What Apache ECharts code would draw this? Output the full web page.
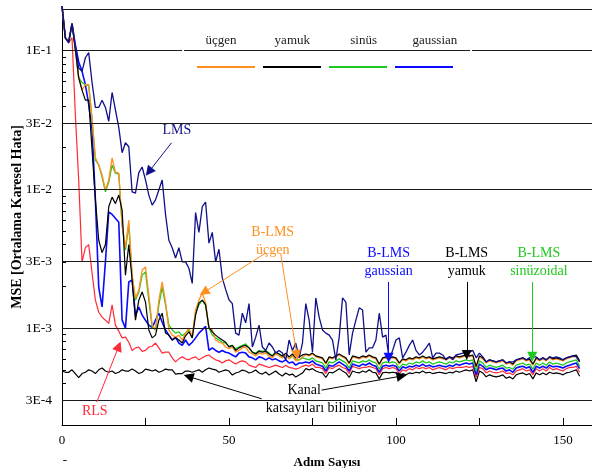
<!DOCTYPE html>
<html><head><meta charset="utf-8">
<script src="https://cdn.jsdelivr.net/npm/echarts@6/dist/echarts.min.js"></script>
<style>html,body{margin:0;padding:0;background:#fff}#c{width:592px;height:468px}</style>
</head><body><div id="c"></div>
<script>
// Step index (Adım Sayısı)
const steps = Array.from({length:156},(_,i)=>i);

const lms = [
2.1e-1,1.24e-1,1.14e-1,1.57e-1,1.07e-1,7.5e-2,7.1e-2,8.9e-2,9.7e-2,5.9e-2,
3.9e-2,3.9e-2,4.4e-2,3.9e-2,3.1e-2,5.0e-2,3.75e-2,2.8e-2,1.84e-2,2.17e-2,
2.03e-2,9.6e-3,9.4e-3,1.32e-2,1.45e-2,1.17e-2,9.1e-3,7.7e-3,8.4e-3,9.9e-3,
1.17e-2,6.6e-3,4.3e-3,3.8e-3,3.2e-3,3.8e-3,3.0e-3,3.0e-3,2.7e-3,2.1e-3,
6.8e-3,4.9e-3,7.5e-3,8.1e-3,4.1e-3,4.9e-3,3.0e-3,3.7e-3,2.3e-3,1.9e-3,
1.6e-3,1.5e-3,9.2e-4,8.9e-4,1.28e-3,1.09e-3,1.5e-3,7.3e-4,8.6e-4,1.05e-3,
7.3e-4,6.9e-4,7.8e-4,7.3e-4,6.6e-4,6.9e-4,6.6e-4,5.9e-4,8.2e-4,6.9e-4,
7.8e-4,6.1e-4,7.8e-4,1.5e-3,1.14e-3,6.7e-4,1.65e-3,1.2e-3,9.7e-4,9.2e-4,
8.9e-4,8.2e-4,5.9e-4,8.6e-4,1.65e-3,1.54e-3,6.4e-4,9.2e-4,1.14e-3,1.4e-3,
1.35e-3,6.7e-4,7.2e-4,7.2e-4,8.2e-4,1.28e-3,8.6e-4,8.9e-4,5.9e-4,6.9e-4,
8.2e-4,8.5e-4,6.1e-4,6.7e-4,7.5e-4,8.2e-4,6.9e-4,6.4e-4,6.7e-4,7.2e-4,
7.8e-4,6.1e-4,6.6e-4,6.6e-4,6.4e-4,5.9e-4,6.2e-4,5.9e-4,6.4e-4,6.5e-4,
6.6e-4,6.6e-4,6.7e-4,6.9e-4,6.1e-4,6.6e-4,6.2e-4,5.7e-4,5.9e-4,5.8e-4,
5.7e-4,5.8e-4,5.9e-4,5.6e-4,5.7e-4,5.7e-4,5.9e-4,6.0e-4,6.1e-4,5.9e-4,
6.1e-4,6.2e-4,6.2e-4,5.9e-4,6.1e-4,5.9e-4,6.2e-4,6.1e-4,6.2e-4,6.1e-4,
5.9e-4,6.1e-4,6.2e-4,6.3e-4,6.2e-4,5.7e-4
];

const rls = [
2.1e-1,1.24e-1,1.14e-1,1.24e-1,3.45e-2,1.17e-2,3.0e-3,3.8e-3,4.0e-3,2.5e-3,
1.59e-3,1.3e-3,1.2e-3,1.14e-3,1.08e-3,1.47e-3,1.05e-3,9.5e-4,8.5e-4,8.6e-4,
7.9e-4,6.9e-4,7.2e-4,7.3e-4,6.8e-4,6.9e-4,7.3e-4,7.4e-4,7.8e-4,7.2e-4,
6.6e-4,6.7e-4,6.7e-4,6.1e-4,5.7e-4,6.0e-4,6.2e-4,6.0e-4,5.9e-4,6.1e-4,
6.2e-4,5.9e-4,6.1e-4,6.3e-4,6.4e-4,6.1e-4,5.9e-4,5.8e-4,5.6e-4,5.8e-4,
5.9e-4,5.7e-4,5.5e-4,5.7e-4,5.8e-4,5.7e-4,5.4e-4,5.3e-4,5.2e-4,5.5e-4,
5.4e-4,5.3e-4,5.2e-4,5.3e-4,5.4e-4,5.3e-4,5.2e-4,5.4e-4,5.2e-4,5.15e-4,
5.06e-4,5.15e-4,5.3e-4,
5.4e-4,5.3e-4,5.5e-4,5.2e-4,5.2e-4,5.1e-4,4.7e-4,5.2e-4,5.1e-4,5.3e-4,
5.4e-4,5.2e-4,5.1e-4,4.7e-4,5.3e-4,5.2e-4,5.1e-4,5.2e-4,5.2e-4,5.3e-4,
5.2e-4,5.1e-4,4.6e-4,5.1e-4,5.2e-4,5.1e-4,5.2e-4,5.1e-4,4.7e-4,5.0e-4,
4.9e-4,5.1e-4,5.0e-4,5.2e-4,5.1e-4,5.2e-4,5.1e-4,5.2e-4,5.0e-4,5.1e-4,
5.2e-4,5.1e-4,5.0e-4,5.2e-4,5.1e-4,5.2e-4,5.2e-4,5.2e-4,5.3e-4,5.2e-4,
5.3e-4,4.4e-4,5.2e-4,5.1e-4,4.75e-4,4.9e-4,4.8e-4,4.75e-4,4.8e-4,4.9e-4,
4.7e-4,4.75e-4,4.6e-4,4.9e-4,5.0e-4,5.1e-4,4.9e-4,5.0e-4,4.6e-4,5.1e-4,
4.9e-4,5.1e-4,4.9e-4,5.2e-4,5.0e-4,5.1e-4,5.0e-4,4.9e-4,5.1e-4,5.2e-4,
5.2e-4,5.3e-4,4.8e-4
];

const ucgen = [
2.1e-1,1.24e-1,1.16e-1,1.57e-1,1.02e-1,6.4e-2,5.2e-2,5.7e-2,5.7e-2,3.2e-2,
1.69e-2,1.5e-2,1.27e-2,9.9e-3,1.17e-2,1.69e-2,1.33e-2,1.31e-2,5.55e-3,3.8e-3,
6.0e-3,2.41e-3,1.64e-3,1.88e-3,2.62e-3,2.76e-3,1.73e-3,1.05e-3,9.7e-4,1.59e-3,
2.15e-3,1.54e-3,9.7e-4,8.9e-4,8.6e-4,8.9e-4,8.2e-4,9.2e-4,1.0e-3,8.6e-4,
1.35e-3,1.59e-3,1.79e-3,1.52e-3,1.0e-3,9.7e-4,8.2e-4,7.9e-4,7.8e-4,7.3e-4,
7.1e-4,7.3e-4,6.7e-4,6.9e-4,7.2e-4,7.3e-4,6.7e-4,6.5e-4,6.3e-4,6.6e-4,
6.5e-4,6.6e-4,6.3e-4,6.1e-4,6.5e-4,6.3e-4,6.1e-4,6.4e-4,6.0e-4,6.3e-4,
5.8e-4,5.9e-4,6.2e-4,
6.4e-4,6.3e-4,6.5e-4,6.2e-4,6.1e-4,6.0e-4,5.5e-4,6.1e-4,6.0e-4,6.2e-4,
6.4e-4,6.2e-4,6.0e-4,5.5e-4,6.2e-4,6.1e-4,6.0e-4,6.2e-4,6.1e-4,6.3e-4,
6.1e-4,6.0e-4,5.4e-4,6.0e-4,6.1e-4,6.0e-4,6.1e-4,6.0e-4,5.5e-4,5.9e-4,
5.8e-4,6.0e-4,5.9e-4,6.1e-4,6.0e-4,6.2e-4,6.0e-4,6.1e-4,5.9e-4,6.0e-4,
6.1e-4,6.0e-4,5.9e-4,6.1e-4,6.0e-4,6.2e-4,6.1e-4,6.2e-4,6.3e-4,6.2e-4,
6.3e-4,5.2e-4,6.2e-4,6.0e-4,5.6e-4,5.8e-4,5.7e-4,5.6e-4,5.7e-4,5.8e-4,
5.5e-4,5.6e-4,5.4e-4,5.8e-4,5.9e-4,6.0e-4,5.8e-4,5.9e-4,5.4e-4,6.0e-4,
5.8e-4,6.0e-4,5.8e-4,6.1e-4,5.9e-4,6.0e-4,5.9e-4,5.8e-4,6.0e-4,6.1e-4,
6.2e-4,6.3e-4,5.7e-4
];

const yamuk = [
2.1e-1,1.24e-1,1.16e-1,1.57e-1,1.02e-1,6.4e-2,5.2e-2,4.4e-2,4.4e-2,1.93e-2,
8.4e-3,4.3e-3,3.5e-3,4.0e-3,7.5e-3,8.8e-3,7.9e-3,9.1e-3,7.1e-3,2.41e-3,
4.0e-3,2.22e-3,1.14e-3,1.59e-3,1.82e-3,1.54e-3,9.7e-4,8.5e-4,8.9e-4,1.14e-3,
1.28e-3,9.2e-4,8.9e-4,8.2e-4,8.5e-4,8.2e-4,7.8e-4,8.8e-4,9.4e-4,8.5e-4,
1.24e-3,1.52e-3,1.59e-3,1.47e-3,1.01e-3,9.4e-4,8.9e-4,8.5e-4,8.2e-4,7.9e-4,
7.3e-4,7.5e-4,6.9e-4,7.2e-4,7.4e-4,7.5e-4,7.2e-4,6.7e-4,6.5e-4,6.8e-4,
6.7e-4,6.8e-4,6.5e-4,6.3e-4,6.7e-4,6.5e-4,6.3e-4,6.6e-4,6.2e-4,6.5e-4,
6.1e-4,6.2e-4,6.4e-4,
6.5e-4,6.4e-4,6.6e-4,6.3e-4,6.2e-4,6.1e-4,5.6e-4,6.2e-4,6.1e-4,6.3e-4,
6.5e-4,6.3e-4,6.1e-4,5.6e-4,6.3e-4,6.2e-4,6.1e-4,6.3e-4,6.2e-4,6.4e-4,
6.2e-4,6.1e-4,5.5e-4,6.1e-4,6.2e-4,6.1e-4,6.2e-4,6.1e-4,5.6e-4,6.0e-4,
5.9e-4,6.1e-4,6.0e-4,6.2e-4,6.1e-4,6.3e-4,6.1e-4,6.2e-4,6.0e-4,6.1e-4,
6.2e-4,6.1e-4,6.0e-4,6.2e-4,6.1e-4,6.3e-4,6.2e-4,6.3e-4,6.4e-4,6.3e-4,
6.4e-4,5.3e-4,6.3e-4,6.1e-4,5.7e-4,5.9e-4,5.8e-4,5.7e-4,5.8e-4,5.9e-4,
5.6e-4,5.7e-4,5.5e-4,5.9e-4,6.0e-4,6.1e-4,5.9e-4,6.0e-4,5.5e-4,6.1e-4,
5.9e-4,6.1e-4,5.9e-4,6.2e-4,6.0e-4,6.1e-4,6.0e-4,5.9e-4,6.1e-4,6.2e-4,
6.3e-4,6.4e-4,5.8e-4
];

const sinus = [
2.1e-1,1.24e-1,1.16e-1,1.57e-1,1.02e-1,6.4e-2,5.9e-2,5.7e-2,5.6e-2,3.2e-2,
1.63e-2,1.5e-2,1.23e-2,9.6e-3,1.13e-2,1.5e-2,1.31e-2,1.29e-2,5.55e-3,3.66e-3,
5.55e-3,2.33e-3,1.59e-3,1.82e-3,2.41e-3,2.54e-3,1.59e-3,1.01e-3,9.7e-4,1.47e-3,
1.97e-3,1.47e-3,1.05e-3,9.7e-4,9.2e-4,9.4e-4,8.8e-4,9.2e-4,9.7e-4,8.5e-4,
1.31e-3,1.47e-3,1.59e-3,1.47e-3,1.0e-3,8.9e-4,8.5e-4,8.2e-4,7.9e-4,7.8e-4,
7.4e-4,7.5e-4,7.1e-4,7.3e-4,7.5e-4,7.7e-4,7.2e-4,6.7e-4,6.6e-4,6.9e-4,
6.8e-4,6.9e-4,6.6e-4,6.3e-4,6.7e-4,6.5e-4,6.2e-4,6.5e-4,6.0e-4,6.3e-4,
5.9e-4,5.9e-4,6.1e-4,
6.0e-4,5.9e-4,6.1e-4,5.8e-4,5.7e-4,5.6e-4,5.15e-4,5.7e-4,5.6e-4,5.8e-4,
6.0e-4,5.8e-4,5.6e-4,5.15e-4,5.8e-4,5.7e-4,5.6e-4,5.8e-4,5.7e-4,5.9e-4,
5.7e-4,5.6e-4,5.05e-4,5.6e-4,5.7e-4,5.6e-4,5.7e-4,5.6e-4,5.15e-4,5.5e-4,
5.4e-4,5.6e-4,5.5e-4,5.7e-4,5.6e-4,5.8e-4,5.6e-4,5.7e-4,5.5e-4,5.6e-4,
5.7e-4,5.6e-4,5.5e-4,5.7e-4,5.6e-4,5.8e-4,5.7e-4,5.8e-4,5.9e-4,5.8e-4,
5.9e-4,4.9e-4,5.8e-4,5.6e-4,5.2e-4,5.4e-4,5.3e-4,5.2e-4,5.3e-4,5.4e-4,
5.15e-4,5.2e-4,5.05e-4,5.4e-4,5.5e-4,5.6e-4,5.4e-4,5.5e-4,5.05e-4,5.6e-4,
5.4e-4,5.6e-4,5.4e-4,5.7e-4,5.5e-4,5.6e-4,5.5e-4,5.4e-4,5.6e-4,5.7e-4,
5.8e-4,5.9e-4,5.3e-4
];

const gaussian = [
2.1e-1,1.24e-1,1.16e-1,1.57e-1,1.1e-1,8.3e-2,7.1e-2,5.7e-2,4.1e-2,2.7e-2,
8.4e-3,1.97e-3,1.42e-3,3.0e-3,6.9e-3,6.6e-3,6.2e-3,5.8e-3,1.14e-3,1.0e-3,
2.15e-3,2.22e-3,1.24e-3,1.42e-3,1.24e-3,1.14e-3,1.05e-3,1.01e-3,1.14e-3,1.28e-3,
1.1e-3,9.7e-4,8.9e-4,8.2e-4,8.6e-4,7.8e-4,7.5e-4,8.2e-4,7.5e-4,7.9e-4,
8.5e-4,9.2e-4,9.7e-4,1.03e-3,6.9e-4,7.2e-4,6.9e-4,6.7e-4,6.9e-4,6.7e-4,
6.6e-4,6.4e-4,6.2e-4,6.6e-4,6.7e-4,6.6e-4,6.2e-4,6.1e-4,5.9e-4,6.2e-4,
6.1e-4,5.9e-4,6.1e-4,5.9e-4,6.0e-4,5.8e-4,5.7e-4,5.9e-4,5.6e-4,5.7e-4,
5.4e-4,5.6e-4,5.6e-4,
5.7e-4,5.6e-4,5.8e-4,5.5e-4,5.4e-4,5.3e-4,4.9e-4,5.4e-4,5.3e-4,5.5e-4,
5.7e-4,5.5e-4,5.3e-4,4.9e-4,5.5e-4,5.4e-4,5.3e-4,5.5e-4,5.4e-4,5.6e-4,
5.4e-4,5.3e-4,4.8e-4,5.3e-4,5.4e-4,5.3e-4,5.4e-4,5.3e-4,4.9e-4,5.25e-4,
5.15e-4,5.3e-4,5.25e-4,5.4e-4,5.3e-4,5.5e-4,5.3e-4,5.4e-4,5.25e-4,5.3e-4,
5.4e-4,5.3e-4,5.25e-4,5.4e-4,5.3e-4,5.5e-4,5.4e-4,5.5e-4,5.6e-4,5.5e-4,
5.6e-4,4.6e-4,5.5e-4,5.3e-4,5.0e-4,5.15e-4,5.1e-4,5.0e-4,5.1e-4,5.15e-4,
4.9e-4,5.0e-4,4.8e-4,5.15e-4,5.25e-4,5.3e-4,5.15e-4,5.25e-4,4.8e-4,5.3e-4,
5.15e-4,5.3e-4,5.15e-4,5.4e-4,5.25e-4,5.3e-4,5.25e-4,5.15e-4,5.3e-4,5.4e-4,
5.5e-4,5.6e-4,5.1e-4
];

const kanal = [
4.9e-4,4.8e-4,4.8e-4,5.0e-4,4.7e-4,4.4e-4,4.7e-4,4.8e-4,5.0e-4,4.9e-4,
4.7e-4,5.0e-4,5.15e-4,4.9e-4,4.8e-4,4.9e-4,4.7e-4,4.8e-4,5.0e-4,4.9e-4,
4.9e-4,5.06e-4,4.9e-4,4.7e-4,4.8e-4,5.06e-4,5.0e-4,4.9e-4,5.0e-4,4.8e-4,
4.9e-4,5.06e-4,5.0e-4,5.0e-4,4.66e-4,4.7e-4,4.7e-4,4.9e-4,4.9e-4,4.8e-4,
4.9e-4,5.0e-4,4.8e-4,5.0e-4,5.15e-4,5.06e-4,5.0e-4,4.8e-4,4.9e-4,5.0e-4,
4.9e-4,4.58e-4,4.74e-4,4.82e-4,4.98e-4,4.9e-4,4.74e-4,4.82e-4,4.98e-4,4.74e-4,
4.66e-4,4.82e-4,4.58e-4,4.74e-4,4.9e-4,4.66e-4,4.51e-4,4.74e-4,4.58e-4,4.66e-4,
4.43e-4,4.58e-4,4.74e-4,
5.1e-4,5.0e-4,5.1e-4,4.9e-4,4.8e-4,4.75e-4,4.4e-4,4.8e-4,4.75e-4,4.9e-4,
5.1e-4,4.9e-4,4.75e-4,4.4e-4,4.9e-4,4.8e-4,4.75e-4,4.9e-4,4.8e-4,5.0e-4,
4.8e-4,4.75e-4,4.3e-4,4.75e-4,4.8e-4,4.75e-4,4.8e-4,4.75e-4,4.4e-4,4.7e-4,
4.6e-4,4.75e-4,4.7e-4,4.8e-4,4.75e-4,4.9e-4,4.75e-4,4.8e-4,4.7e-4,4.75e-4,
4.8e-4,4.75e-4,4.7e-4,4.8e-4,4.75e-4,4.9e-4,4.8e-4,4.9e-4,5.0e-4,4.9e-4,
5.0e-4,4.1e-4,4.9e-4,4.75e-4,4.45e-4,4.6e-4,4.5e-4,4.45e-4,4.5e-4,4.6e-4,
4.35e-4,4.45e-4,4.3e-4,4.6e-4,4.7e-4,4.75e-4,4.6e-4,4.7e-4,4.3e-4,4.75e-4,
4.6e-4,4.75e-4,4.6e-4,4.8e-4,4.7e-4,4.75e-4,4.7e-4,4.6e-4,4.75e-4,4.8e-4,
4.9e-4,5.0e-4,4.5e-4
];

// Axis ticks / labels
const yTickLabels = ['3E-4','1E-3','3E-3','1E-2','3E-2','1E-1'];
const yTickValues = [3e-4,1e-3,3e-3,1e-2,3e-2,1e-1];
const yGridValues = [3e-4,1e-3,3e-3,1e-2,3e-2,1e-1,2e-1];
const yMinorTicks = [3e-4,4e-4,5e-4,6e-4,7e-4,8e-4,9e-4,1e-3,2e-3,3e-3,4e-3,5e-3,6e-3,7e-3,8e-3,9e-3,1e-2,2e-2,3e-2,4e-2,5e-2,6e-2,7e-2,8e-2,9e-2,1e-1,2e-1];
const yMin = 2e-4, yMax = 2e-1;
const xTickValues = [0,25,50,75,100,125,150];
const xLabelValues = [0,50,100,150];
const xMax = 158.7;
const legendNames = ['üçgen','yamuk','sinüs','gaussian'];

const C = {lms:'#10108a', rls:'#ff2a36', ucgen:'#ff9020', yamuk:'#000000', sinus:'#1ec81e', gaussian:'#0a0aff', kanal:'#000000'};

const annotations = [
  {text:'LMS', x:34.4, y:0.0265, color:C.lms},
  {text:'B-LMS\nüçgen', x:63.1, y:0.00425, color:C.ucgen},
  {text:'B-LMS\ngaussian', x:97.8, y:0.00297, color:C.gaussian},
  {text:'B-LMS\nyamuk', x:121.2, y:0.00297, color:'#000'},
  {text:'B-LMS\nsinüzoidal', x:142.8, y:0.00297, color:C.sinus},
  {text:'RLS', x:9.8, y:0.000253, color:C.rls},
  {text:'Kanal', x:72.5, y:0.000357, color:'#000'},
  {text:'katsayıları biliniyor', x:77.5, y:0.000264, color:'#000'}
];
const arrows = [
  {from:[32.8,0.0217], to:[26.0,0.0134], color:C.lms},
  {from:[61.0,0.00348], to:[42.5,0.00181], color:C.ucgen},
  {from:[65.5,0.00342], to:[70.3,0.00064], color:C.ucgen},
  {from:[97.8,0.00215], to:[97.8,0.00061], color:C.gaussian},
  {from:[121.2,0.00215], to:[121.2,0.00064], color:'#000'},
  {from:[140.8,0.00215], to:[140.8,0.00062], color:C.sinus},
  {from:[10.4,0.000292], to:[17.0,0.00074], color:C.rls},
  {from:[77.7,0.000357], to:[101.7,0.000451], color:'#000'},
  {from:[59.8,0.000309], to:[37.9,0.000447], color:'#000'}
];

const L = Math.log10;
const FONT = '"Liberation Serif", "Times New Roman", serif';
const toData = arr => steps.map((s,i)=>[s, L(arr[i])]);
const labelFor = v => { let b=0,d=1e9; yTickValues.forEach((t,i)=>{const dd=Math.abs(L(t)-v); if(dd<d){d=dd;b=i;}}); return yTickLabels[b]; };

function lineSeries(name, arr, color, width){
  return {name, type:'line', data:toData(arr), showSymbol:false, symbol:'none', clip:false,
    lineStyle:{color, width}, itemStyle:{color}, emphasis:{disabled:true}, z:3};
}

const legendLeft = 192, legendItemW = 58, legendStep = 71.3;

const chart = echarts.init(document.getElementById('c'), null, {renderer:'canvas'});
chart.setOption({
  animation:false,
  backgroundColor:'#fff',
  grid:{left:62, right:0, top:9, bottom:43, containLabel:false, outerBoundsMode:'none'},
  legend:{data:legendNames, left:legendLeft, top:61, itemWidth:legendItemW, itemHeight:2, itemGap:8,
    icon:'rect', formatter:()=> '', selectedMode:false, textStyle:{fontSize:1}},
  xAxis:{type:'value', min:0, max:xMax,
    axisLine:{show:true, onZero:false, lineStyle:{color:'#000', width:1}},
    axisTick:{show:true, inside:true, length:7, customValues:xTickValues, lineStyle:{color:'#000'}},
    axisLabel:{customValues:xLabelValues, margin:9, color:'#000', fontFamily:FONT, fontSize:13},
    splitLine:{show:false},
    name:'Adım Sayısı', nameLocation:'middle', nameGap:31, nameMoveOverlap:false,
    nameTextStyle:{fontFamily:FONT, fontWeight:'bold', fontSize:13, color:'#000'}},
  yAxis:{type:'value', min:L(yMin), max:L(yMax),
    axisLine:{show:true, onZero:false, lineStyle:{color:'#000', width:1}},
    axisTick:{show:true, inside:true, length:4, customValues:yMinorTicks.map(L), lineStyle:{color:'#000'}},
    axisLabel:{customValues:yTickValues.map(L), formatter:labelFor, margin:10, color:'#000', fontFamily:FONT, fontSize:13.5},
    splitLine:{show:false},
    name:'MSE [Ortalama Karesel Hata]', nameLocation:'middle', nameGap:38, nameMoveOverlap:false,
    nameTextStyle:{fontFamily:FONT, fontWeight:'bold', fontSize:14, color:'#000'}},
  series:[
    {type:'line', data:[], silent:true, z:1,
      markLine:{silent:true, symbol:'none', animation:false, label:{show:false},
        lineStyle:{color:'#1a1a1a', width:1.2, type:'solid'},
        data:yGridValues.map(v=>({yAxis:L(v)}))}},
    lineSeries('Kanal katsayıları biliniyor', kanal, C.kanal, 1.2),
    lineSeries('RLS', rls, C.rls, 1.2),
    lineSeries('gaussian', gaussian, C.gaussian, 1.6),
    lineSeries('sinüs', sinus, C.sinus, 1.3),
    lineSeries('üçgen', ucgen, C.ucgen, 1.3),
    lineSeries('yamuk', yamuk, C.yamuk, 1.2),
    lineSeries('LMS', lms, C.lms, 1.3),
    {type:'line', data:[], silent:true, z:5,
      markLine:{silent:true, animation:false, symbol:['none','triangle'], symbolSize:10, label:{show:false},
        data:arrows.map(a=>[
          {coord:[a.from[0], L(a.from[1])], lineStyle:{color:a.color, width:1, type:'solid'}, itemStyle:{color:a.color}},
          {coord:[a.to[0], L(a.to[1])], lineStyle:{color:a.color, width:1, type:'solid'}, itemStyle:{color:a.color}}
        ])},
      markPoint:{silent:true, animation:false, symbol:'rect', symbolSize:1, itemStyle:{color:'rgba(0,0,0,0)'},
        data:annotations.map(a=>({coord:[a.x, L(a.y)],
          label:{show:true, position:'inside', formatter:a.text, color:a.color, fontFamily:FONT, fontSize:14, lineHeight:18}}))}}
  ],
  graphic:[
    ...legendNames.map((n,i)=>({type:'text', x:legendLeft+legendItemW/2+legendStep*i, y:41, z:10,
      style:{text:n, fill:'#222', font:'13px ' + FONT, align:'center', verticalAlign:'middle'}})),
    {type:'rect', shape:{x:182, y:48, width:2, height:6}, style:{fill:'#fff'}, z:10},
    {type:'rect', shape:{x:470, y:48, width:2, height:6}, style:{fill:'#fff'}, z:10},
    {type:'text', x:65, y:461, style:{text:'-', fill:'#000', font:'13px ' + FONT, align:'center', verticalAlign:'middle'}}
  ]
});
</script>
</body></html>
